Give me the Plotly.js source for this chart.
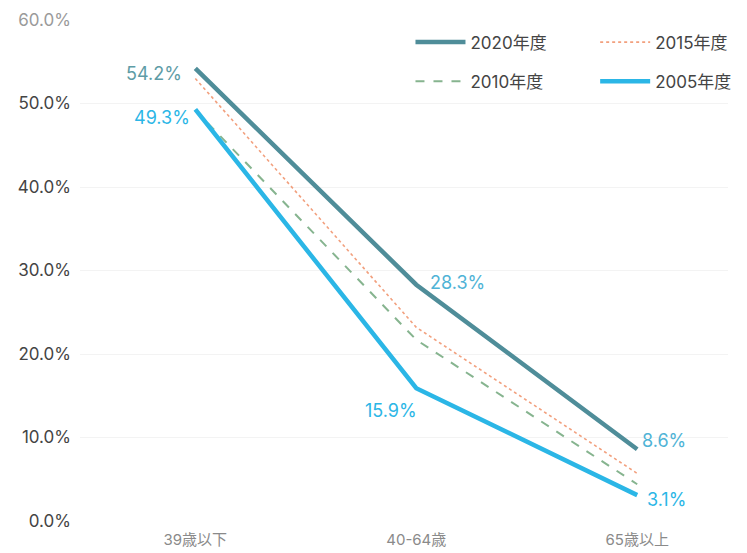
<!DOCTYPE html>
<html><head><meta charset="utf-8">
<script src="https://cdn.plot.ly/plotly-3.0.1.min.js"></script>
<style>html,body{margin:0;padding:0;background:#fff}#chart{width:747px;height:553px}</style>
</head><body><div id="chart"></div>
<script>
const categories = ["39歳以下", "40-64歳", "65歳以上"];
const seriesNames = ["2020年度", "2015年度", "2010年度", "2005年度"];
const v2020 = [54.2, 28.3, 8.6];
const v2015 = [53.0, 23.2, 5.7];
const v2010 = [49.2, 21.7, 4.4];
const v2005 = [49.3, 15.9, 3.1];
const yTicks = [0, 10, 20, 30, 40, 50, 60];
const yTickText = ["0.0%", "10.0%", "20.0%", "30.0%", "40.0%", "50.0%", "<span style='color:#9a9a9a'>60.0%</span>"];

const FONT = "Inter, 'Noto Sans CJK JP', sans-serif";
const styles = [
  {color: "#4f8d99", width: 4.5, dash: "solid", legend: "legend"},
  {color: "#f2a07e", width: 1.6, dash: "dot", legend: "legend2"},
  {color: "#86b48f", width: 2, dash: "dash", legend: "legend3"},
  {color: "#2bb6e6", width: 4.5, dash: "solid", legend: "legend4"}
];
const values = [v2020, v2015, v2010, v2005];
const traces = values.map((v, i) => ({
  type: "scatter", mode: "lines", x: categories, y: v, name: seriesNames[i],
  line: {color: styles[i].color, width: styles[i].width, dash: styles[i].dash},
  legend: styles[i].legend, hoverinfo: "skip"
}));

const fmt = v => v.toFixed(1) + "%";
const annotations = [
  {x: categories[0], y: v2020[0], xanchor: "right", yanchor: "middle", xshift: -11, yshift: -5, color: "#5e9ca6"},
  {x: categories[1], y: v2020[1], xanchor: "left", yanchor: "middle", xshift: 12, yshift: 2, color: "#4fb3d6"},
  {x: categories[2], y: v2020[2], xanchor: "left", yanchor: "middle", xshift: 3, yshift: 9, color: "#4fb3d6"},
  {x: categories[0], y: v2005[0], xanchor: "right", yanchor: "middle", xshift: -3, yshift: -8, color: "#2bb6e6"},
  {x: categories[1], y: v2005[1], xanchor: "center", yanchor: "top", xshift: -25, yshift: -10, color: "#2bb6e6"},
  {x: categories[2], y: v2005[2], xanchor: "left", yanchor: "middle", xshift: 8, yshift: -4, color: "#2bb6e6"}
].map(a => ({
  x: a.x, y: a.y, text: fmt(a.y), showarrow: false, xanchor: a.xanchor, yanchor: a.yanchor,
  xshift: a.xshift, yshift: a.yshift, font: {family: FONT, size: 18, color: a.color}
}));

const legendBase = {bgcolor: "rgba(0,0,0,0)", font: {family: FONT, size: 17, color: "#444"},
  itemwidth: 50, xanchor: "left", yanchor: "middle"};

const layout = {
  width: 747, height: 553,
  margin: {l: 80, r: 10, t: 20, b: 32},
  paper_bgcolor: "#fff", plot_bgcolor: "#fff",
  showlegend: true,
  xaxis: {type: "category", range: [-0.522, 2.411], showgrid: false, zeroline: false, showline: false,
    ticks: "", ticklabelstandoff: 8, tickfont: {family: FONT, size: 15, color: "#8a8a8a"}},
  yaxis: {range: [0, 60], tickvals: yTicks, ticktext: yTickText, showgrid: true, gridcolor: "#f3f3f3",
    zeroline: false, showline: false, ticks: "", ticklabelstandoff: 8,
    tickfont: {family: FONT, size: 17, color: "#444"}},
  legend: Object.assign({}, legendBase, {x: 0.51, y: 0.955}),
  legend2: Object.assign({}, legendBase, {x: 0.795, y: 0.955}),
  legend3: Object.assign({}, legendBase, {x: 0.51, y: 0.877}),
  legend4: Object.assign({}, legendBase, {x: 0.795, y: 0.877}),
  annotations: annotations
};
Plotly.newPlot("chart", traces, layout, {staticPlot: true});
</script></body></html>
